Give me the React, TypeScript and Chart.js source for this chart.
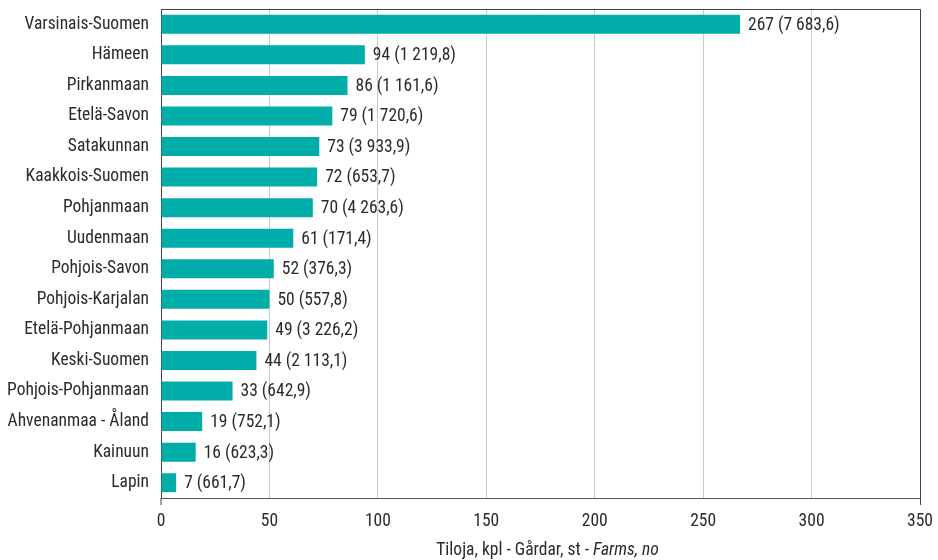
import React, { useEffect, useRef } from "react";
import { Chart, registerables } from "chart.js";

Chart.register(...registerables);

const regions: string[] = [
  "Varsinais-Suomen",
  "Hämeen",
  "Pirkanmaan",
  "Etelä-Savon",
  "Satakunnan",
  "Kaakkois-Suomen",
  "Pohjanmaan",
  "Uudenmaan",
  "Pohjois-Savon",
  "Pohjois-Karjalan",
  "Etelä-Pohjanmaan",
  "Keski-Suomen",
  "Pohjois-Pohjanmaan",
  "Ahvenanmaa - Åland",
  "Kainuun",
  "Lapin",
];

const farms: number[] = [267, 94, 86, 79, 73, 72, 70, 61, 52, 50, 49, 44, 33, 19, 16, 7];

const areas: number[] = [
  7683.6, 1219.8, 1161.6, 1720.6, 3933.9, 653.7, 4263.6, 171.4, 376.3, 557.8, 3226.2, 2113.1,
  642.9, 752.1, 623.3, 661.7,
];

const xTicks: number[] = [0, 50, 100, 150, 200, 250, 300, 350];

const FONT = "'Liberation Sans Narrow', 'Arial Narrow', 'Roboto Condensed', 'Liberation Sans', sans-serif";
const TEXT = "#2b2b2b";
const FS = 17.5;

function fmtFi(v: number): string {
  const [ip, dp] = v.toFixed(1).split(".");
  const withSpaces = ip.replace(/\B(?=(\d{3})+(?!\d))/g, " ");
  return withSpaces + "," + dp;
}

const overlayPlugin = {
  id: "overlay",
  afterDatasetsDraw(chart: any) {
    const ctx = chart.ctx;
    const meta = chart.getDatasetMeta(0);
    ctx.save();
    ctx.font = `${FS}px ${FONT}`;
    ctx.fillStyle = TEXT;
    ctx.textAlign = "left";
    ctx.textBaseline = "middle";
    meta.data.forEach((bar: any, i: number) => {
      const txt = `${farms[i]} (${fmtFi(areas[i])})`;
      ctx.fillText(txt, bar.x + 8, bar.y + 1);
    });
    ctx.restore();
  },
  afterDraw(chart: any) {
    const ctx = chart.ctx;
    const a = chart.chartArea;
    ctx.save();
    ctx.strokeStyle = "#444444";
    ctx.lineWidth = 1;
    ctx.beginPath();
    ctx.moveTo(a.left, a.top + 0.5);
    ctx.lineTo(a.right + 0.5, a.top + 0.5);
    ctx.lineTo(a.right + 0.5, a.bottom + 7);
    ctx.moveTo(a.left, a.bottom);
    ctx.lineTo(a.left, a.bottom + 7);
    ctx.stroke();

    // axis title with italic part
    const y = 551;
    const p1 = "Tiloja, kpl - Gårdar, st - ";
    const p2 = "Farms, no";
    ctx.textBaseline = "middle";
    ctx.fillStyle = TEXT;
    ctx.font = `${FS}px ${FONT}`;
    const w1 = ctx.measureText(p1).width;
    ctx.font = `italic ${FS}px ${FONT}`;
    const w2 = ctx.measureText(p2).width;
    const cx = (a.left + a.right) / 2 + 7;
    const start = cx - (w1 + w2) / 2;
    ctx.font = `${FS}px ${FONT}`;
    ctx.textAlign = "left";
    ctx.fillText(p1, start, y);
    ctx.font = `italic ${FS}px ${FONT}`;
    ctx.fillText(p2, start + w1, y);
    ctx.restore();
  },
};

export default function App() {
  const canvasRef = useRef<HTMLCanvasElement | null>(null);

  useEffect(() => {
    document.body.style.margin = "0";
    const canvas = canvasRef.current;
    if (!canvas) return;
    const chart = new Chart(canvas, {
      type: "bar",
      data: {
        labels: regions,
        datasets: [
          {
            data: farms,
            backgroundColor: "#00ADA8",
            borderWidth: 0,
            barPercentage: 0.62,
            categoryPercentage: 1,
          },
        ],
      },
      options: {
        indexAxis: "y",
        animation: false,
        responsive: false,
        maintainAspectRatio: false,
        layout: { padding: { top: 9, right: 18, bottom: 0, left: 0 } },
        plugins: {
          legend: { display: false },
          tooltip: { enabled: false },
        },
        scales: {
          x: {
            min: 0,
            max: 350,
            afterBuildTicks: (scale: any) => {
              scale.ticks = xTicks.map((v) => ({ value: v }));
            },
            afterFit: (scale: any) => {
              scale.height = 62;
              scale.paddingLeft = 0;
              scale.paddingRight = 0;
            },
            ticks: {
              color: TEXT,
              font: { family: FONT, size: FS },
              padding: 13,
            },
            grid: {
              color: "#c9c9d6",
              lineWidth: 1,
              drawTicks: false,
            },
            border: { display: true, color: "#555555", width: 1 },
          },
          y: {
            afterFit: (scale: any) => {
              scale.width = 161;
              scale.paddingTop = 0;
              scale.paddingBottom = 0;
            },
            ticks: {
              color: TEXT,
              font: { family: FONT, size: FS },
              padding: 12,
            },
            grid: { display: false, drawTicks: false },
            border: { display: true, color: "#444444", width: 1 },
          },
        },
      },
      plugins: [overlayPlugin],
    });
    return () => chart.destroy();
  }, []);

  return (
    <div style={{ width: 938, height: 560 }}>
      <canvas ref={canvasRef} width={938} height={560} style={{ display: "block" }} />
    </div>
  );
}
